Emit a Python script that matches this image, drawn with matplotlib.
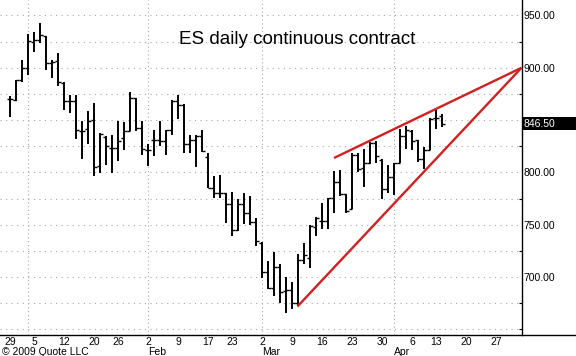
import matplotlib
matplotlib.use("Agg")
import matplotlib.pyplot as plt
from matplotlib.patches import Rectangle
from matplotlib.lines import Line2D
from matplotlib.ticker import FixedLocator, NullFormatter
import matplotlib.transforms as mtransforms
import pandas as pd

# ---------------- data ----------------
title = "ES daily continuous contract"
copyright_text = "\u00a9 2009 Quote LLC"

dates = [
    "2008-12-29", "2008-12-30", "2008-12-31", "2009-01-02",
    "2009-01-05", "2009-01-06", "2009-01-07", "2009-01-08", "2009-01-09",
    "2009-01-12", "2009-01-13", "2009-01-14", "2009-01-15", "2009-01-16",
    "2009-01-20", "2009-01-21", "2009-01-22", "2009-01-23",
    "2009-01-26", "2009-01-27", "2009-01-28", "2009-01-29", "2009-01-30",
    "2009-02-02", "2009-02-03", "2009-02-04", "2009-02-05", "2009-02-06",
    "2009-02-09", "2009-02-10", "2009-02-11", "2009-02-12", "2009-02-13",
    "2009-02-17", "2009-02-18", "2009-02-19", "2009-02-20",
    "2009-02-23", "2009-02-24", "2009-02-25", "2009-02-26", "2009-02-27",
    "2009-03-02", "2009-03-03", "2009-03-04", "2009-03-05", "2009-03-06",
    "2009-03-09", "2009-03-10", "2009-03-11", "2009-03-12", "2009-03-13",
    "2009-03-16", "2009-03-17", "2009-03-18", "2009-03-19", "2009-03-20",
    "2009-03-23", "2009-03-24", "2009-03-25", "2009-03-26", "2009-03-27",
    "2009-03-30", "2009-03-31", "2009-04-01", "2009-04-02", "2009-04-03",
    "2009-04-06", "2009-04-07", "2009-04-08", "2009-04-09",
    "2009-04-13", "2009-04-14",
]
opens = [870.2, 869.5, 888.0, 899.7, 924.5, 927.0, 930.8, 904.5, 906.7,
         885.4, 867.9, 867.9, 839.3, 841.9, 850.5, 806.0, 834.0, 823.5,
         823.5, 833.0, 840.0, 871.1, 842.6, 821.9, 830.8, 831.4, 830.5,
         841.0, 867.9, 864.8, 826.7, 831.4, 835.2, 815.0, 785.4, 780.0,
         780.0, 769.5, 745.1, 769.5, 761.6, 752.7, 733.0, 705.0, 689.2,
         709.2, 687.0, 687.9, 675.2, 716.2, 717.8, 748.3, 754.0, 753.6,
         775.9, 790.8, 779.7, 764.8, 817.1, 804.5, 809.2, 828.3, 811.7,
         783.8, 795.2, 808.6, 835.2, 839.3, 831.4, 813.0, 821.2, 852.1,
         853.6]
highs = [873.3, 888.6, 907.6, 932.4, 934.0, 942.6, 930.8, 907.0, 914.6,
         886.0, 874.3, 874.3, 848.9, 858.4, 866.4, 837.8, 835.0, 836.2,
         849.5, 847.9, 876.5, 871.1, 848.9, 826.7, 840.3, 849.5, 841.0,
         869.2, 873.6, 865.7, 836.2, 836.2, 841.0, 818.7, 796.5, 797.1,
         780.7, 781.3, 775.0, 780.0, 777.5, 756.9, 733.6, 715.5, 723.5,
         712.4, 699.7, 694.9, 721.9, 732.4, 749.5, 757.8, 771.1, 775.9,
         801.2, 802.2, 779.7, 818.7, 818.7, 822.6, 828.9, 830.5, 812.4,
         806.7, 809.2, 841.6, 844.8, 841.0, 831.4, 824.5, 852.1, 860.0,
         856.2]
lows = [852.7, 867.9, 886.0, 892.7, 915.5, 924.0, 898.1, 890.2, 882.2,
        859.3, 856.9, 832.1, 812.4, 826.7, 796.5, 799.7, 806.7, 799.7,
        810.8, 821.9, 839.3, 839.3, 817.1, 806.0, 815.5, 825.0, 817.1,
        836.2, 851.4, 818.7, 818.7, 805.4, 819.4, 785.4, 775.9, 775.9,
        751.4, 739.3, 744.1, 750.5, 749.5, 729.2, 698.8, 688.6, 681.6,
        675.2, 665.7, 669.5, 673.3, 712.0, 708.3, 738.8, 745.7, 745.7,
        761.6, 777.5, 761.6, 764.8, 800.3, 786.4, 807.6, 809.2, 775.0,
        780.0, 778.0, 808.6, 822.6, 821.9, 809.8, 802.9, 821.2, 841.6,
        843.5]
closes = [870.2, 887.9, 899.7, 925.7, 927.0, 931.0, 904.5, 906.0, 886.0,
          867.9, 867.9, 840.3, 839.3, 848.9, 805.4, 837.1, 825.7, 823.5,
          830.5, 839.3, 871.1, 842.6, 822.6, 821.2, 830.8, 829.8, 841.0,
          867.9, 864.8, 826.7, 831.4, 835.2, 820.3, 785.4, 780.0, 780.0,
          769.5, 744.8, 769.5, 761.6, 752.7, 734.6, 705.0, 689.2, 709.2,
          686.0, 687.9, 675.2, 716.2, 721.0, 748.9, 756.5, 753.6, 775.9,
          790.8, 779.7, 763.1, 817.1, 802.9, 809.2, 828.3, 815.5, 784.5,
          795.2, 808.6, 835.2, 840.3, 829.8, 812.4, 821.9, 851.1, 852.1,
          846.5]
last_price = 846.50

# wedge trend lines: (trading-day index, price) endpoints
upper_line_days = [54.0, 85.25]
upper_line_prices = [813.8, 900.0]
lower_line_days = [47.9, 85.25]
lower_line_prices = [671.8, 900.0]

holidays = ["2009-01-01", "2009-01-19", "2009-02-16", "2009-04-10"]
y_label_values = [700, 750, 800, 900, 950]
grid_values = list(range(650, 951, 25))
month_labels = {2: "Feb", 3: "Mar", 4: "Apr"}

# ---------------- calendar ----------------
axis_days = pd.bdate_range("2008-12-29", "2009-04-30")
axis_days = axis_days[~axis_days.isin(pd.to_datetime(holidays))]
day_index = {d: i for i, d in enumerate(axis_days)}
xs = [day_index[pd.Timestamp(d)] for d in dates]

week_ticks, week_labels = [], []
seen_weeks = set()
for i, d in enumerate(axis_days):
    wk = d.isocalendar()[:2]
    if wk not in seen_weeks:
        seen_weeks.add(wk)
        week_ticks.append(i)
        week_labels.append(str(d.day))
month_starts = []
seen_months = set()
for i, d in enumerate(axis_days):
    if d.month not in seen_months and i > 0:
        seen_months.add(d.month)
        month_starts.append((i, d.month))
    elif i == 0:
        seen_months.add(d.month)

# ---------------- figure ----------------
W, H = 576, 356
fig = plt.figure(figsize=(W / 100, H / 100), dpi=100)
fig.patch.set_facecolor("white")
ax_right_px = 521.5
ax_bottom_px = 335
ax = fig.add_axes([0, (H - ax_bottom_px) / H, ax_right_px / W, ax_bottom_px / H])
ax.set_facecolor("white")

px_per_day = 6.0
x0_px = 10.0
ax.set_xlim((0 - x0_px) / px_per_day, (ax_right_px - x0_px) / px_per_day)
ax.set_ylim(644.6, 964.8)

font = ["Liberation Sans", "DejaVu Sans"]

# grid
for g in grid_values:
    ax.axhline(g, color="#a8a8a8", lw=0.8, ls=(0, (1, 4)), zorder=0)
for i, m in month_starts:
    ax.axvline(i, color="#a8a8a8", lw=0.8, ls=(0, (1, 2.5)), zorder=0)

# OHLC bars
tick_len = 0.42
ax.vlines(xs, lows, highs, color="black", lw=1.4, zorder=3)
ax.hlines(opens, [x - tick_len for x in xs], xs, color="black", lw=1.0, zorder=3)
ax.hlines(closes, xs, [x + tick_len for x in xs], color="black", lw=1.0, zorder=3)

# wedge lines
red = "#d31f1f"
ax.plot(upper_line_days, upper_line_prices, color=red, lw=1.7, zorder=4,
        solid_capstyle="butt", clip_on=False)
ax.plot(lower_line_days, lower_line_prices, color=red, lw=1.7, zorder=4,
        solid_capstyle="butt", clip_on=False)

# spines
for s in ["top", "left"]:
    ax.spines[s].set_visible(False)
ax.spines["right"].set_color("black")
ax.spines["right"].set_linewidth(1.0)
ax.spines["bottom"].set_visible(False)

# y axis on the right
ax.yaxis.tick_right()
ax.set_yticks(y_label_values)
ax.set_yticklabels([f"{v:.2f}" for v in y_label_values], fontfamily=font, fontsize=7.5)
ax.yaxis.set_minor_locator(FixedLocator([v for v in grid_values if v not in y_label_values + [850]]))
ax.tick_params(axis="y", which="major", length=0, pad=1.5)
ax.tick_params(axis="y", which="minor", length=2, direction="in", width=0.8)

# x axis labels
ax.set_xticks(week_ticks)
ax.set_xticklabels(week_labels, fontfamily=font, fontsize=7.5)
ax.tick_params(axis="x", length=0, pad=1.5)

# full-width bottom line
fig.add_artist(Line2D([0, 1], [(H - ax_bottom_px) / H] * 2, color="black", lw=1.0,
                      transform=fig.transFigure))

# month labels
trans = mtransforms.blended_transform_factory(ax.transData, fig.transFigure)
for i, m in month_starts:
    if m in month_labels:
        ax.text(i, (H - 347) / H, month_labels[m], transform=trans, ha="left", va="top",
                fontfamily=font, fontsize=7.5, clip_on=False)
fig.text(2 / W, (H - 347) / H, copyright_text, ha="left", va="top",
         fontfamily=font, fontsize=7.5)

# title
fig.text(297 / W, (H - 44) / H, title, ha="center", va="baseline",
         fontfamily=font, fontsize=13.5)

# last-price box
ytrans = mtransforms.blended_transform_factory(fig.transFigure, ax.transData)
box_h_pts = 13.4 / 100 * 72
ax.add_patch(Rectangle((ax_right_px / W, last_price), (W - ax_right_px) / W, 1,
                       transform=ytrans, color="black", clip_on=False, visible=False))
fy = ax.transData.transform((0, last_price))[1] / H
fig.add_artist(Rectangle((ax_right_px / W, fy - 6.7 / H), (W - ax_right_px) / W, 13.4 / H,
                         transform=fig.transFigure, facecolor="black", edgecolor="none"))
fig.text(523.5 / W, fy, f"{last_price:.2f}", ha="left", va="center", color="white",
         fontfamily=font, fontsize=7.5)

fig.savefig("out.png", dpi=100, facecolor="white")
